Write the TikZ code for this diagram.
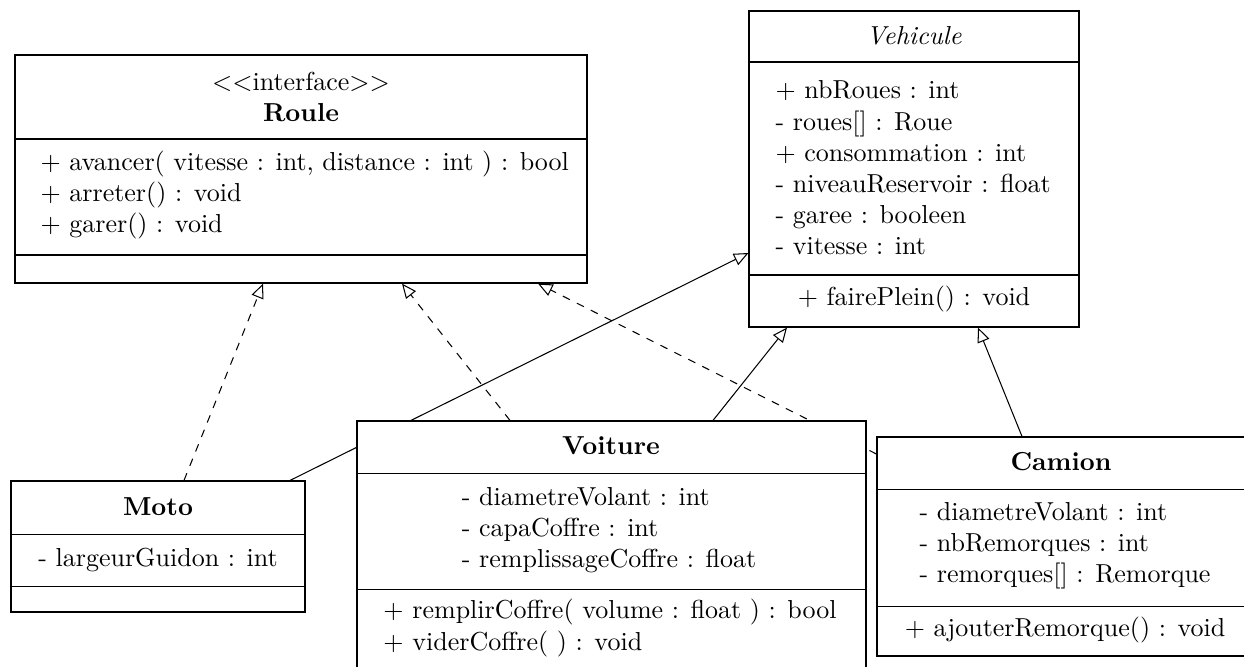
\documentclass[tikz,border=0pt]{standalone}
\usetikzlibrary{arrows.meta,fit}
\pgfdeclarelayer{links}
\pgfsetlayers{links,main}
\begin{document}
\begin{tikzpicture}[x=0.3846pt,y=-0.3846pt,
  classbox/.style={draw, fill=white, inner sep=0pt, line width=0.45pt},
  txt/.style={inner sep=0pt, font=\fontsize{10}{12}\selectfont},
  lefttxt/.style={txt, anchor=west, align=left},
  blocktxt/.style={txt, align=left},
  centertxt/.style={txt, align=center},
  realizes/.style={dashed, line width=0.4pt, -{Triangle[open,length=5.6pt,width=4.8pt]}},
  extends/.style={line width=0.4pt, -{Triangle[open,length=5.6pt,width=4.8pt]}},
]
\useasboundingbox (0,0) rectangle (1244,666);
\clip (0,0) rectangle (1244,666);

% ---------- interface Roule ----------
\node[classbox, fit={(15,55) (587,283)}] (roule) {};
\draw (roule.west |- 0,139) -- (roule.east |- 0,139);
\draw (roule.west |- 0,255) -- (roule.east |- 0,255);
\node[centertxt] (roule-name) at (301,97) {$<<$interface$>>$\\\textbf{Roule}};
\node[lefttxt] (roule-ops) at (40,195) {$+$ avancer( vitesse : int, distance : int ) : bool\\$+$ arreter() : void\\$+$ garer() : void};

% ---------- abstract class Vehicule ----------
\node[classbox, fit={(749,11) (1079,327)}] (vehicule) {};
\draw (vehicule.west |- 0,62) -- (vehicule.east |- 0,62);
\draw (vehicule.west |- 0,275) -- (vehicule.east |- 0,275);
\node[centertxt] (vehicule-name) at (914,36) {\textit{Vehicule}};
\node[lefttxt] (vehicule-attrs) at (775,168) {$+$ nbRoues : int\\- roues[] : Roue\\$+$ consommation : int\\- niveauReservoir : float\\- garee : booleen\\- vitesse : int};
\node[centertxt] (vehicule-ops) at (914,299) {$+$ fairePlein() : void};

% ---------- class Moto ----------
\node[classbox, fit={(11,481) (305,612)}] (moto) {};
\draw (moto.west |- 0,534) -- (moto.east |- 0,534);
\draw (moto.west |- 0,586) -- (moto.east |- 0,586);
\node[centertxt] (moto-name) at (158,507) {\textbf{Moto}};
\node[centertxt] (moto-attrs) at (158,560) {- largeurGuidon : int};

% ---------- class Voiture ----------
\node[classbox, fit={(357,421) (866,700)}] (voiture) {};
\draw (voiture.west |- 0,473) -- (voiture.east |- 0,473);
\draw (voiture.west |- 0,589) -- (voiture.east |- 0,589);
\node[centertxt] (voiture-name) at (611,446) {\textbf{Voiture}};
\node[blocktxt] (voiture-attrs) at (609,530) {- diametreVolant : int\\- capaCoffre : int\\- remplissageCoffre : float};
\node[blocktxt] (voiture-ops) at (610,628) {$+$ remplirCoffre( volume : float ) : bool\\$+$ viderCoffre( ) : void};

% ---------- class Camion ----------
\node[classbox, fit={(877,437) (1250,656)}] (camion) {};
\draw (camion.west |- 0,489) -- (camion.east |- 0,489);
\draw (camion.west |- 0,606) -- (camion.east |- 0,606);
\node[centertxt] (camion-name) at (1061,462) {\textbf{Camion}};
\node[blocktxt] (camion-attrs) at (1065,546) {- diametreVolant : int\\- nbRemorques : int\\- remorques[] : Remorque};
\node[centertxt] (camion-ops) at (1065,630) {$+$ ajouterRemorque() : void};

% ---------- relations (behind the boxes) ----------
\begin{pgfonlayer}{links}
\draw[realizes] (moto.north -| 184,0) -- (roule.south -| 263,0);
\draw[realizes] (voiture.north -| 510,0) -- (roule.south -| 402,0);
\draw[realizes] (camion.west |- 0,454) -- (roule.south -| 538,0);
\draw[extends] (moto.north -| 290,0) -- (vehicule.west |- 0,253);
\draw[extends] (voiture.north -| 713,0) -- (vehicule.south -| 787,0);
\draw[extends] (camion.north -| 1022,0) -- (vehicule.south -| 978,0);
\end{pgfonlayer}
\end{tikzpicture}
\end{document}
